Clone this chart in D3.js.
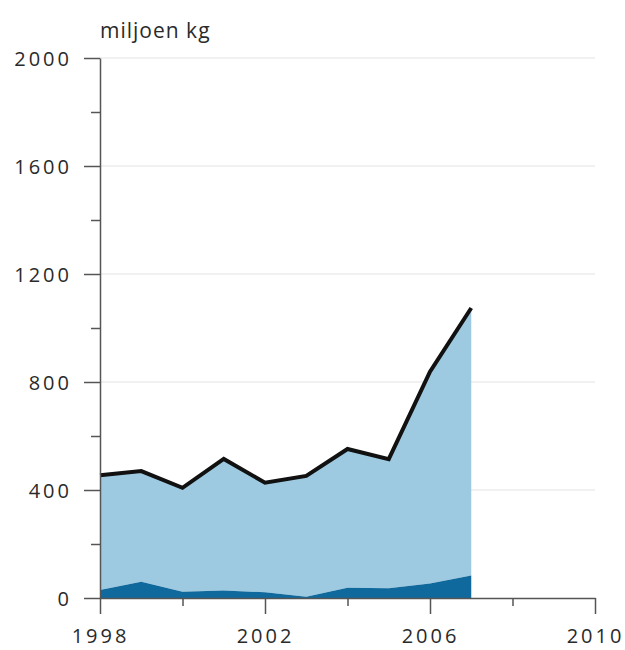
<!DOCTYPE html>
<html>
<head>
<meta charset="utf-8">
<script src="https://cdn.jsdelivr.net/npm/d3@7"></script>
<style>
  body { margin: 0; background: #fff; }
  svg text { font-family: "Open Sans", sans-serif; fill: #333; }
</style>
</head>
<body>
<div id="chart"></div>
<script>
const years = [1998, 1999, 2000, 2001, 2002, 2003, 2004, 2005, 2006, 2007];
const totalValues = [455, 470, 408, 515, 427, 452, 552, 514, 838, 1074];
const darkValues = [30, 60, 23, 28, 21, 5, 38, 36, 54, 83];
const yTickLabels = [0, 400, 800, 1200, 1600, 2000];
const xTickLabels = [1998, 2002, 2006, 2010];

const width = 625;
const height = 650;
const margin = { top: 58, right: 30, bottom: 52, left: 100 };

const svg = d3.select('#chart')
    .append('svg')
    .attr('width', width)
    .attr('height', height);

const xScale = d3.scaleLinear()
    .domain([1998, 2010])
    .range([margin.left, width - margin.right]);

const yScale = d3.scaleLinear()
    .domain([0, 2000])
    .range([height - margin.bottom, margin.top]);

const data = years.map((y, i) => ({ year: y, total: totalValues[i], dark: darkValues[i] }));

// gridlines
svg.append('g')
    .selectAll('line')
    .data(yTickLabels.filter(d => d > 0))
    .enter()
    .append('line')
    .attr('x1', xScale(1998))
    .attr('x2', xScale(2010))
    .attr('y1', d => yScale(d))
    .attr('y2', d => yScale(d))
    .attr('stroke', '#e3e3e3')
    .attr('stroke-width', 1.2);

// light area (dark top to total)
const lightArea = d3.area()
    .x(d => xScale(d.year))
    .y0(d => yScale(d.dark))
    .y1(d => yScale(d.total));

const darkArea = d3.area()
    .x(d => xScale(d.year))
    .y0(yScale(0))
    .y1(d => yScale(d.dark));

svg.append('path')
    .datum(data)
    .attr('d', lightArea)
    .attr('fill', '#9ecae1');

svg.append('path')
    .datum(data)
    .attr('d', darkArea)
    .attr('fill', '#10699c');

svg.append('path')
    .datum(data)
    .attr('d', d3.line().x(d => xScale(d.year)).y(d => yScale(d.total)))
    .attr('fill', 'none')
    .attr('stroke', '#111')
    .attr('stroke-width', 4)
    .attr('stroke-linejoin', 'miter');

// y axis
const yAxis = d3.axisLeft(yScale)
    .tickValues(d3.range(0, 2001, 200))
    .tickSize(0)
    .tickFormat(d => yTickLabels.includes(d) ? d : '');

const yg = svg.append('g')
    .attr('transform', `translate(${margin.left}, 0)`)
    .call(yAxis);
yg.select('.domain').attr('stroke', '#555').attr('stroke-width', 1.5);
yg.selectAll('.tick line')
    .attr('x2', d => yTickLabels.includes(d) ? -16 : -9)
    .attr('stroke', '#555')
    .attr('stroke-width', 1.5);
yg.selectAll('.tick text')
    .attr('x', -28)
    .attr('dy', '0.35em')
    .style('font-size', '20px')
    .style('letter-spacing', '3px')
    .style('fill', '#2a2a2a');

// x axis
const xAxis = d3.axisBottom(xScale)
    .tickValues(d3.range(1998, 2011, 2))
    .tickSize(0)
    .tickFormat(d => xTickLabels.includes(d) ? d : '');

const xg = svg.append('g')
    .attr('transform', `translate(0, ${yScale(0)})`)
    .call(xAxis);
xg.select('.domain').attr('stroke', '#555').attr('stroke-width', 1.5);
xg.selectAll('.tick line')
    .attr('y2', d => xTickLabels.includes(d) ? 16 : 8)
    .attr('stroke', '#555')
    .attr('stroke-width', 1.5);
xg.selectAll('.tick text')
    .attr('y', 38)
    .attr('dy', '0.35em')
    .style('font-size', '20px')
    .style('letter-spacing', '3px')
    .style('fill', '#2a2a2a');

// unit label
svg.append('text')
    .attr('x', margin.left)
    .attr('y', 38)
    .style('font-size', '21px')
    .style('letter-spacing', '1px')
    .style('fill', '#2a2a2a')
    .text('miljoen kg');
</script>
</body>
</html>
